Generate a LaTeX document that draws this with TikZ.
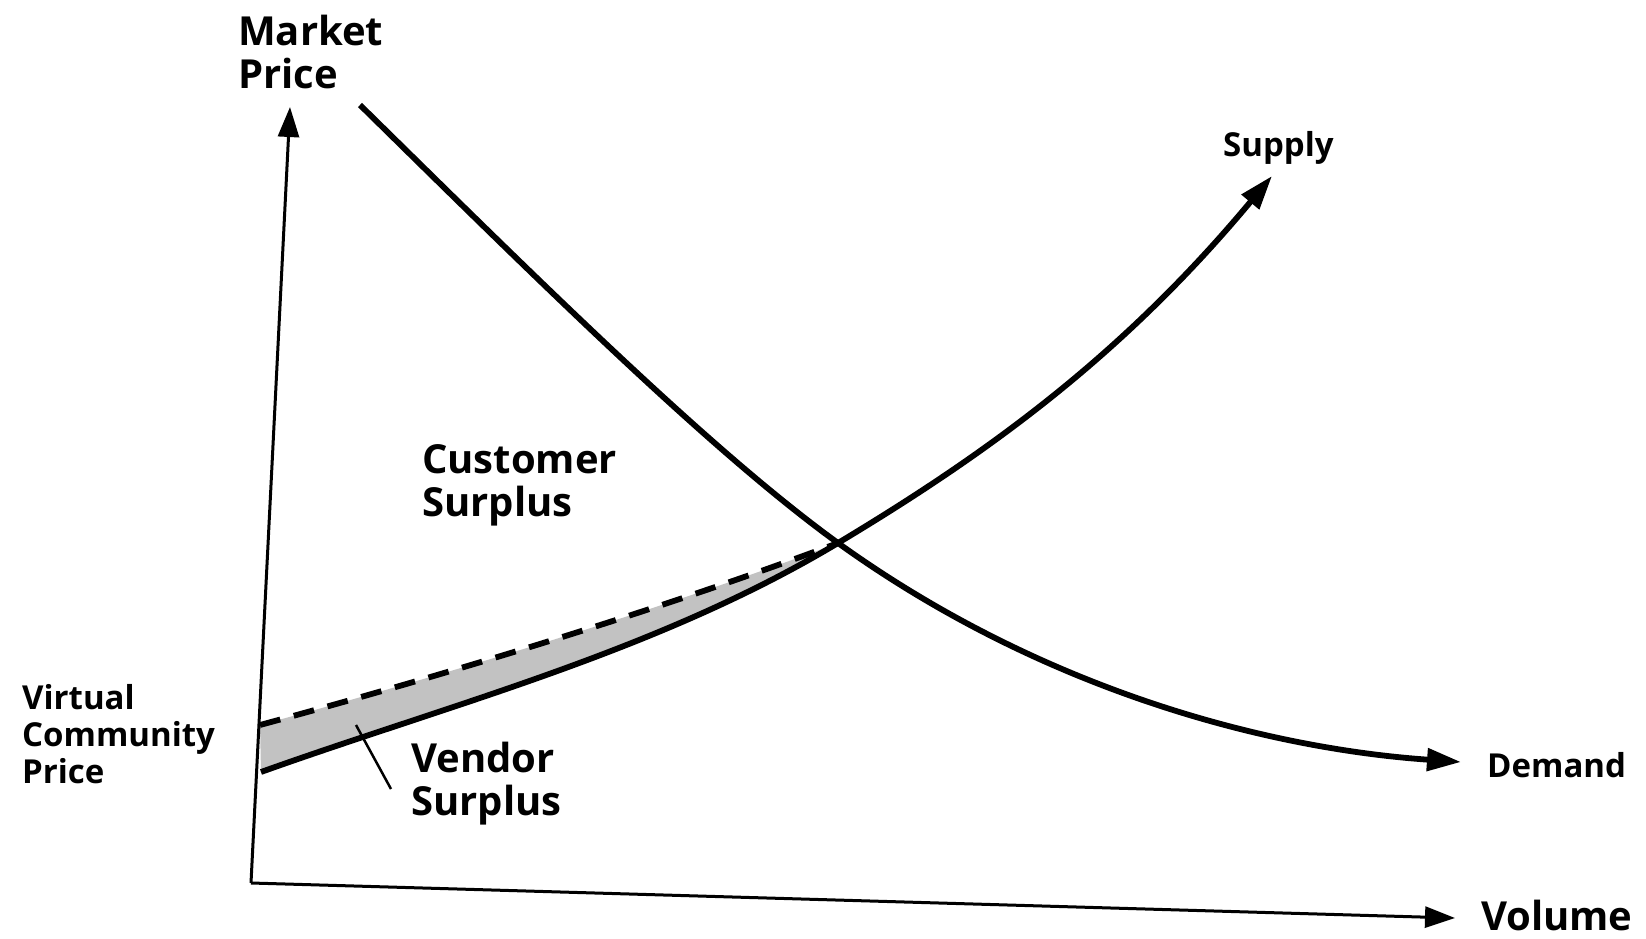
\documentclass[tikz,border=0pt]{standalone}
\usepackage{fontspec}
\setmainfont{Open Sans}
\usetikzlibrary{arrows.meta}
\begin{document}
\begin{tikzpicture}[x=1pt,y=-1pt,
  lbl/.style={inner sep=0pt, anchor=base west, align=left, text=black},
  bigtxt/.style={font=\bfseries\fontsize{40}{43}\selectfont},
  smalltxt/.style={font=\bfseries\fontsize{33}{37}\selectfont},
  axisline/.style={line width=3pt, draw=black},
  curveline/.style={line width=5.8pt, draw=black},
  tipA/.style={-{Triangle[length=30pt,width=21pt]}},
  tipC/.style={-{Triangle[length=34pt,width=22pt]}},
  surplusfill/.style={fill=black!24}
]
\fill[white] (0,0) rectangle (1646,939);
\useasboundingbox (0,0) rectangle (1646,939);

% key points
\coordinate (O) at (251,883);
\coordinate (Ytip) at (290,107);
\coordinate (Xtip) at (1455,918);
\coordinate (S0) at (261,772);
\coordinate (D0) at (260,725);
\coordinate (E) at (838,543);
\coordinate (Stip) at (1272,176);
\coordinate (Dstart) at (360,105);
\coordinate (Dtip) at (1461,762);
\coordinate (L1) at (356,725);
\coordinate (L2) at (391,789);

% vendor surplus band
\path[surplusfill] (D0) .. controls (500,660) and (700,595) .. (E)
  .. controls (658,651) and (451,704) .. (S0) -- cycle;

% axes
\draw[axisline, tipA] (O) -- (Ytip);
\draw[axisline, tipA] (O) -- (Xtip);

% dashed virtual community price line
\draw[curveline, dash pattern=on 21pt off 14pt] (D0) .. controls (500,660) and (700,595) .. (E);

% supply curve
\draw[curveline, tipC] (S0) .. controls (451,704) and (658,651) .. (E)
  .. controls (988,453) and (1122,356) .. (Stip);

% demand curve
\draw[curveline, tipC] (Dstart) .. controls (530,272) and (708,449) .. (E)
  .. controls (1038,687) and (1261,748) .. (Dtip);

% leader line
\draw[line width=2.5pt] (L1) -- (L2);

% labels
\node[lbl, bigtxt] (market) at (238,89) {Market\\Price};
\node[lbl, bigtxt] (customer) at (422,516) {Customer\\Surplus};
\node[lbl, bigtxt] (vendor) at (411,815) {Vendor\\Surplus};
\node[lbl, smalltxt] (vcp) at (22,783) {Virtual\\Community\\Price};
\node[lbl, smalltxt] (supply) at (1223,157) {Supply};
\node[lbl, smalltxt] (demand) at (1487,777) {Demand};
\node[lbl, font=\bfseries\fontsize{40}{44}\selectfont] (volume) at (1481,930) {Volume};
\end{tikzpicture}
\end{document}
